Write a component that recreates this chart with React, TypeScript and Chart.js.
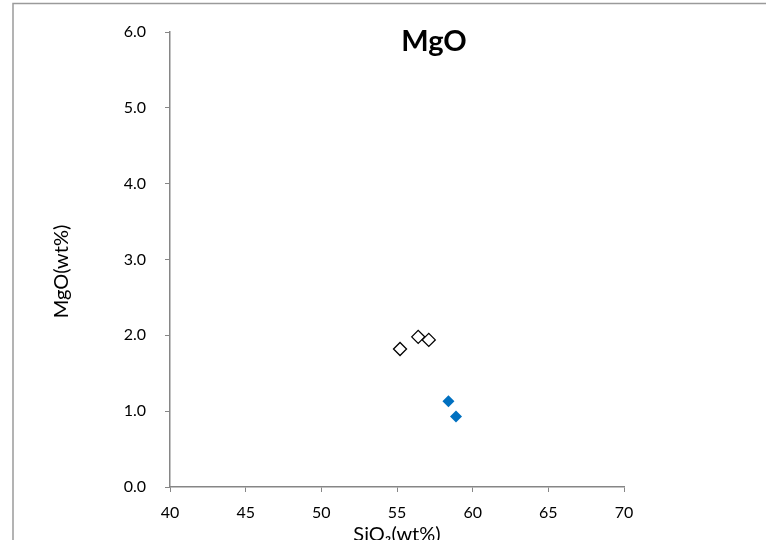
import React, { useEffect, useRef } from "react";
import { Chart, registerables } from "chart.js";

Chart.register(...registerables);

// Whole-rock SiO2 vs MgO (wt%)
const openSiO2 = [55.2, 56.4, 57.1];
const openMgO = [1.82, 1.98, 1.94];
const filledSiO2 = [58.4, 58.9];
const filledMgO = [1.13, 0.93];

const xTicks = [40, 45, 50, 55, 60, 65, 70];
const yTicks = [0, 1, 2, 3, 4, 5, 6];

const chartTitle = "MgO";
const xTitle = "SiO\u2082(wt%)";
const yTitle = "MgO(wt%)";

const FONT = "Lato, 'Liberation Sans', sans-serif";
const AXIS = "#868686";

const framePlugin = {
  id: "frame",
  beforeDraw(chart: any) {
    const ctx = chart.ctx;
    ctx.save();
    ctx.fillStyle = "#ffffff";
    ctx.fillRect(0, 0, chart.width, chart.height);
    ctx.strokeStyle = "#9a9a9a";
    ctx.lineWidth = 1.5;
    ctx.strokeRect(13, 3.5, chart.width + 20, chart.height + 20);
    ctx.restore();
  },
  afterDraw(chart: any) {
    const ctx = chart.ctx;
    const area = chart.chartArea;
    ctx.save();
    ctx.fillStyle = "#000000";
    ctx.font = `bold 29px ${FONT}`;
    ctx.textAlign = "center";
    ctx.textBaseline = "middle";
    ctx.fillText(chartTitle, 434, 42);
    // vertical axis title, sat a little below the plot's mid-height
    ctx.font = `20px ${FONT}`;
    ctx.translate(62, (area.top + area.bottom) / 2 + 12);
    ctx.rotate(-Math.PI / 2);
    ctx.fillText(yTitle, 0, 0);
    ctx.restore();
  },
};

export default function App() {
  const ref = useRef<HTMLCanvasElement | null>(null);

  useEffect(() => {
    if (!ref.current) return;
    const chart = new Chart(ref.current, {
      type: "scatter",
      data: {
        datasets: [
          {
            label: "open",
            data: openSiO2.map((x, i) => ({ x, y: openMgO[i] })),
            pointStyle: "rectRot",
            pointRadius: 6.5,
            pointBackgroundColor: "#ffffff",
            pointBorderColor: "#000000",
            pointBorderWidth: 1.3,
          },
          {
            label: "filled",
            data: filledSiO2.map((x, i) => ({ x, y: filledMgO[i] })),
            pointStyle: "rectRot",
            pointRadius: 6,
            pointBackgroundColor: "#0070C0",
            pointBorderColor: "#0070C0",
            pointBorderWidth: 0,
          },
        ],
      },
      options: {
        responsive: false,
        animation: false,
        layout: { padding: { left: 0, top: 32, right: 142, bottom: 0 } },
        plugins: {
          legend: { display: false },
          title: { display: false },
          tooltip: { enabled: false },
        },
        scales: {
          x: {
            type: "linear",
            min: 40,
            max: 70,
            afterBuildTicks: (s: any) => {
              s.ticks = xTicks.map((v) => ({ value: v }));
            },
            afterFit: (s: any) => {
              s.height = 53;
            },
            ticks: {
              color: "#000000",
              font: { family: FONT, size: 16 },
              padding: 11,
              maxRotation: 0,
            },
            grid: {
              drawOnChartArea: false,
              drawTicks: true,
              tickLength: 5,
              color: AXIS,
            },
            border: { color: AXIS, width: 1.5 },
            title: {
              display: true,
              text: xTitle,
              color: "#000000",
              font: { family: FONT, size: 20 },
              padding: { top: 0, bottom: -7 },
            },
          },
          y: {
            type: "linear",
            min: 0,
            max: 6,
            afterBuildTicks: (s: any) => {
              s.ticks = yTicks.map((v) => ({ value: v }));
            },
            afterFit: (s: any) => {
              s.width = 170;
            },
            ticks: {
              color: "#000000",
              font: { family: FONT, size: 16 },
              padding: 19,
              callback: (v: any) => Number(v).toFixed(1),
            },
            grid: {
              drawOnChartArea: false,
              drawTicks: true,
              tickLength: 5,
              color: AXIS,
            },
            border: { color: AXIS, width: 1.5 },
          },
        },
      },
      plugins: [framePlugin],
    });
    return () => chart.destroy();
  }, []);

  return (
    <div style={{ position: "fixed", left: 0, top: 0, width: 766, height: 540, overflow: "hidden" }}>
      <canvas ref={ref} width={766} height={540} style={{ display: "block" }} />
    </div>
  );
}
